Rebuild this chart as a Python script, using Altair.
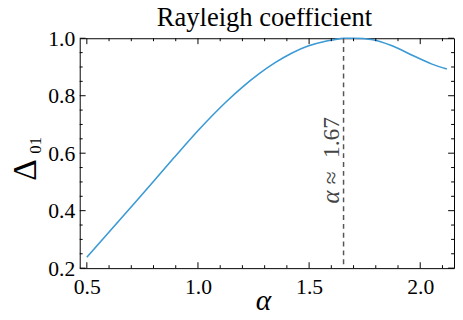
import altair as alt
import pandas as pd

# ---- data ----
alpha = [0.50, 0.729, 0.883, 1.007, 1.126, 1.200, 1.274, 1.347, 1.421, 1.495,
         1.569, 1.613, 1.655, 1.700, 1.787, 1.876, 1.964, 2.053, 2.120]
delta = [0.238, 0.439, 0.576, 0.684, 0.778, 0.830, 0.876, 0.915, 0.948, 0.973,
         0.989, 0.995, 1.000, 1.000, 0.995, 0.973, 0.941, 0.910, 0.893]
peak_alpha = [1.655]
peak_label_y = [0.5145]

x_major = [0.5, 1.0, 1.5, 2.0]
x_minor = [0.6, 0.7, 0.8, 0.9, 1.1, 1.2, 1.3, 1.4, 1.6, 1.7, 1.8, 1.9, 2.1]
y_major = [0.2, 0.4, 0.6, 0.8, 1.0]
y_minor = [0.25, 0.3, 0.35, 0.45, 0.5, 0.55, 0.65, 0.7, 0.75, 0.85, 0.9, 0.95]

W, H = 381, 234
FONT = "Liberation Serif"
MAJ, MIN = 6, 3

xscale = alt.Scale(domain=[0.468, 2.152], nice=False, zero=False)
yscale = alt.Scale(domain=[0.2, 1.0], nice=False, zero=False)

x_axis = alt.Axis(values=x_major, format=".1f", ticks=False, domain=False,
                  grid=False, labelFont=FONT, labelFontSize=22,
                  labelColor="black", labelPadding=9, title=None,
                  labelFlush=False)
y_axis = alt.Axis(values=y_major, format=".1f", ticks=False, domain=False,
                  grid=False, labelFont=FONT, labelFontSize=22,
                  labelColor="black", labelPadding=5, title=None,
                  labelFlush=False)


def X(field):
    return alt.X(field, scale=xscale, axis=x_axis, title=None)


def Y(field):
    return alt.Y(field, scale=yscale, axis=y_axis, title=None)


curve_df = pd.DataFrame({"alpha": alpha, "delta": delta})
peak_df = pd.DataFrame({"alpha": peak_alpha, "y": peak_label_y})

curve = alt.Chart(curve_df).mark_line(
    color="#3a9ad6", strokeWidth=1.6, interpolate="monotone"
).encode(x=X("alpha:Q"), y=Y("delta:Q"))

vline = alt.Chart(peak_df).mark_rule(
    color="#555555", strokeWidth=1.5, strokeDash=[5, 4]
).encode(x=X("alpha:Q"))

LABC = "#444444"
lab_a = alt.Chart(peak_df).mark_text(
    text="α", align="right", baseline="alphabetic",
    font=FONT, fontSize=25, fontStyle="italic", color=LABC, dx=-13, dy=-5
).encode(x=X("alpha:Q"), y=Y("y:Q"), angle=alt.value(270))

lab_eq = alt.Chart(peak_df).mark_text(
    text="≈", align="center", baseline="alphabetic",
    font=FONT, fontSize=24, color=LABC, dx=0, dy=-5
).encode(x=X("alpha:Q"), y=Y("y:Q"), angle=alt.value(270))

lab_n = alt.Chart(peak_df).mark_text(
    text="1.67", align="left", baseline="alphabetic",
    font=FONT, fontSize=24, color=LABC, dx=20, dy=-5
).encode(x=X("alpha:Q"), y=Y("y:Q"), angle=alt.value(270))


def xticks(vals, length, top):
    df = pd.DataFrame({"v": vals})
    if top:
        yy, yy2 = 0, length
    else:
        yy, yy2 = H, H - length
    return alt.Chart(df).mark_rule(color="black", strokeWidth=1).encode(
        x=X("v:Q"), y=alt.value(yy), y2=alt.value(yy2))


def yticks(vals, length, right):
    df = pd.DataFrame({"v": vals})
    if right:
        xx, xx2 = W, W - length
    else:
        xx, xx2 = 0, length
    return alt.Chart(df).mark_rule(color="black", strokeWidth=1).encode(
        y=Y("v:Q"), x=alt.value(xx), x2=alt.value(xx2))


ticks = [
    xticks(x_major, MAJ, False), xticks(x_major, MAJ, True),
    xticks(x_minor, MIN, False), xticks(x_minor, MIN, True),
    yticks(y_major, MAJ, False), yticks(y_major, MAJ, True),
    yticks(y_minor, MIN, False), yticks(y_minor, MIN, True),
]

anno_df = pd.DataFrame({"k": [0]})
title = alt.Chart(anno_df).mark_text(
    text="Rayleigh coefficient", font=FONT, fontSize=27, color="black",
    align="center", baseline="alphabetic"
).encode(x=alt.value(188), y=alt.value(-12))

ylab = alt.Chart(anno_df).mark_text(
    text="Δ", font=FONT, fontSize=34, color="black",
    align="center", baseline="alphabetic"
).encode(x=alt.value(-44), y=alt.value(134), angle=alt.value(270))

ysub = alt.Chart(anno_df).mark_text(
    text="01", font=FONT, fontSize=17, color="black",
    align="center", baseline="alphabetic"
).encode(x=alt.value(-39), y=alt.value(109), angle=alt.value(270))

xlab = alt.Chart(anno_df).mark_text(
    text="α", font=FONT, fontSize=30, fontStyle="italic", color="black",
    align="center", baseline="alphabetic"
).encode(x=alt.value(187), y=alt.value(277))

chart = alt.layer(curve, vline, lab_a, lab_eq, lab_n, *ticks,
                  title, ylab, ysub, xlab).properties(
    width=W, height=H,
    autosize=alt.AutoSizeParams(type="none"),
    padding={"left": 73, "top": 28, "right": 1, "bottom": 50},
    background="white",
).configure_view(stroke="black", strokeWidth=1)

chart.save("out.html", embed_options={"renderer": "svg", "actions": False})
